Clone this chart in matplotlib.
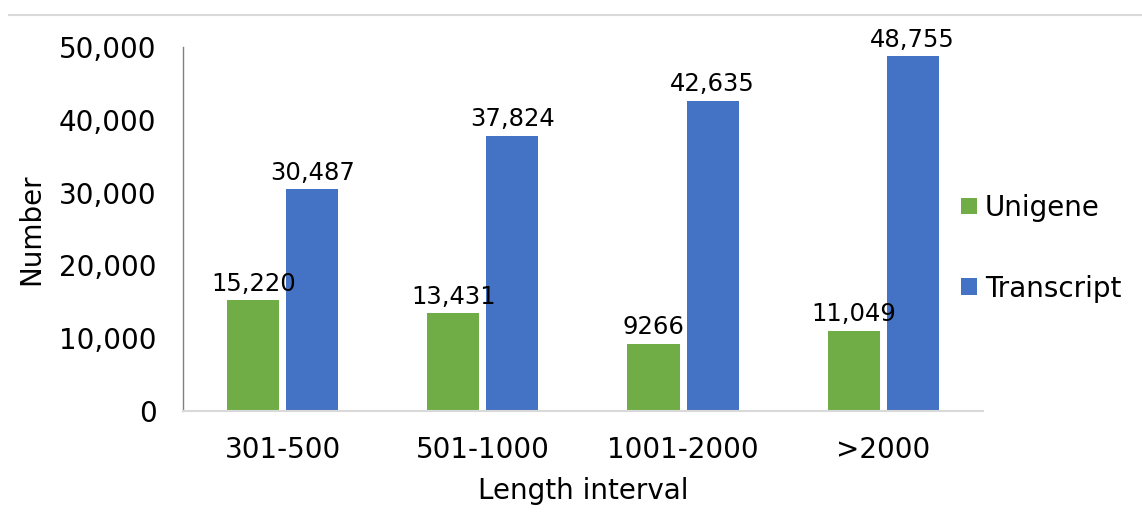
import matplotlib.pyplot as plt
import numpy as np
from matplotlib.lines import Line2D

categorias = ['301-500', '501-1000', '1001-2000', '>2000']
unigene = [15220, 13431, 9266, 11049]
transcript = [30487, 37824, 42635, 48755]
etiquetas_unigene = ['15,220', '13,431', '9266', '11,049']
etiquetas_transcript = ['30,487', '37,824', '42,635', '48,755']

verde = '#70AD47'
azul = '#4472C4'

fig = plt.figure(figsize=(11.42, 5.26), dpi=100)
ax = fig.add_axes([0.1602, 0.2186, 0.7006, 0.692])

x = np.arange(len(categorias))
ancho = 0.26
sep = 0.0175
b1 = ax.bar(x - ancho / 2 - sep, unigene, ancho, color=verde, label='Unigene')
b2 = ax.bar(x + ancho / 2 + sep, transcript, ancho, color=azul, label='Transcript')

for barra, txt in zip(b1, etiquetas_unigene):
    ax.annotate(txt, (barra.get_x() + barra.get_width() / 2, barra.get_height()),
                xytext=(0, 3), textcoords='offset points', ha='center', va='bottom', fontsize=17.5)
for barra, txt in zip(b2, etiquetas_transcript):
    ax.annotate(txt, (barra.get_x() + barra.get_width() / 2, barra.get_height()),
                xytext=(0, 3), textcoords='offset points', ha='center', va='bottom', fontsize=17.5)

ax.set_xlim(-0.5, 3.5)
ax.set_ylim(0, 50000)
ax.set_yticks(range(0, 50001, 10000))
ax.set_yticklabels(['0', '10,000', '20,000', '30,000', '40,000', '50,000'])
ax.set_xticks(x)
ax.set_xticklabels(categorias)
ax.tick_params(axis='both', length=0, labelsize=20)
ax.tick_params(axis='y', pad=19)
ax.tick_params(axis='x', pad=18)

ax.set_xlabel('Length interval', fontsize=20, labelpad=9)
ax.set_ylabel('Number', fontsize=20, labelpad=10)

for lado in ['top', 'right']:
    ax.spines[lado].set_visible(False)
ax.spines['left'].set_color('#808080')
ax.spines['left'].set_linewidth(1.0)
ax.spines['bottom'].set_color('#D9D9D9')
ax.spines['bottom'].set_linewidth(1.5)

fig.legend(handles=[b1, b2], labels=['Unigene', 'Transcript'], loc='center left',
           bbox_to_anchor=(0.82, 0.528), frameon=False, fontsize=20,
           handlelength=0.55, handleheight=0.55, handletextpad=0.3, labelspacing=1.9)

fig.add_artist(Line2D([0.008, 1.0], [0.9724, 0.9724], color='#D9D9D9', linewidth=1.5))

fig.savefig('out.png', dpi=100)
